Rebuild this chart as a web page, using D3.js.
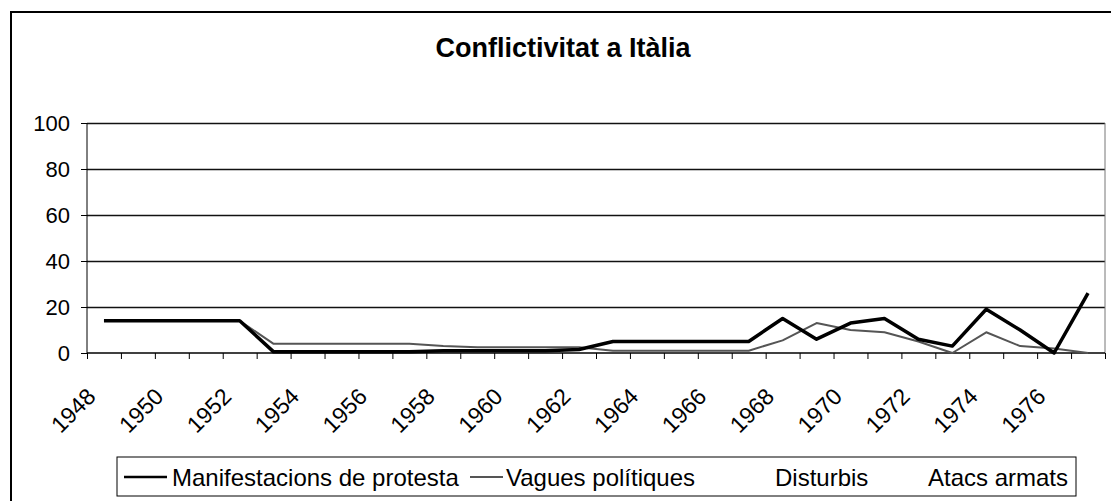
<!DOCTYPE html>
<html>
<head>
<meta charset="utf-8">
<script src="https://cdn.jsdelivr.net/npm/d3@7"></script>
<style>
body { margin: 0; background: #fff; }
svg { font-family: "Liberation Sans", Arial, sans-serif; }
.axis path { display: none; }
.axis line { stroke: #000; }
.grid line { stroke: #111; stroke-width: 1.5; }
.grid path { display: none; }
</style>
</head>
<body>
<svg width="1111" height="501"></svg>
<script>
// data
const years = d3.range(1948, 1978)
const yTicks = [0, 20, 40, 60, 80, 100]
const xLabels = d3.range(1948, 1978, 2)

const manifestacions = [14, 14, 14, 14, 14, 0.5, 0.5, 0.5, 0.5, 0.5, 1, 1, 1, 1, 1.5,
	5, 5, 5, 5, 5, 15, 6, 13, 15, 6, 3, 19, 10, 0, 26]
const vagues = [14, 14, 14, 14, 14, 4, 4, 4, 4, 4, 3, 2.5, 2.5, 2.5, 2.5,
	1, 1, 1, 1, 1, 5.5, 13, 10, 9, 5, 0, 9, 3, 2, 0]
// these two came out almost white in the print, only specks are left
const disturbis = [72, 70, 69, 72, 71, 73, 70, 66, 69, 72, 74, 70, 73, 72, 68,
	78, 89, 90, 70, 70, 63, 70, 72, 70, 66, 62, 72, 74, 72, 70]
const atacs = [30, 32, 33, 36, 38, 43, 35, 32, 30, 32, 33, 45, 33, 26, 30,
	32, 33, 33, 33, 31, 29, 31, 33, 30, 28, 28, 30, 32, 32, 30]

const seriesNames = ["Manifestacions de protesta", "Vagues polítiques", "Disturbis", "Atacs armats"]
const seriesColors = ["#000", "#555", "#fff", "#fff"]
const seriesWidths = [3.5, 2, 2, 2]

const svg = d3.select("svg")

//chart border
svg.append("rect")
	.attr("x", 11)
	.attr("y", 12)
	.attr("width", 1130)
	.attr("height", 520)
	.attr("fill", "#fff")
	.attr("stroke", "#000")
	.attr("stroke-width", 2)

//scales
const x = d3.scaleBand()
	.domain(years)
	.range([87, 1105])

const xEdge = d3.scaleLinear()
	.domain([0, years.length])
	.range([87, 1105])

const y = d3.scaleLinear()
	.domain([0, 100])
	.range([353, 123])

const cx = d => x(d) + x.bandwidth() / 2

const line = d3.line()
	.x((d, i) => cx(years[i]))
	.y(d => y(d))

//faint series go under the grid
svg.selectAll("path.faint")
	.data([disturbis, atacs])
	.enter()
	.append("path")
	.attr("class", "faint")
	.attr("d", line)
	.attr("fill", "none")
	.attr("stroke", "#fff")
	.attr("stroke-width", 2)

//grid
svg.append("g")
	.attr("class", "grid")
	.attr("transform", "translate(87,0)")
	.call(d3.axisLeft(y).tickValues(yTicks.slice(1)).tickSize(-(1105 - 87)).tickFormat(""))

//right border of plot area
svg.append("line")
	.attr("x1", 1105)
	.attr("x2", 1105)
	.attr("y1", y(100))
	.attr("y2", y(0))
	.attr("stroke", "#777")

//y axis
const yAxis = svg.append("g")
	.attr("class", "axis")
	.attr("transform", "translate(87,0)")
	.call(d3.axisLeft(y).tickValues(yTicks).tickSize(6).tickPadding(11))
yAxis.selectAll("text")
	.style("font-size", "22px")
	.attr("fill", "#000")
yAxis.append("line")
	.attr("y1", y(0))
	.attr("y2", y(100))
	.attr("stroke", "#000")

//x axis
const xAxis = svg.append("g")
	.attr("class", "axis")
	.attr("transform", `translate(0,${y(0)})`)
	.call(d3.axisBottom(xEdge).tickValues(d3.range(years.length + 1)).tickSize(6).tickFormat(""))
xAxis.append("line")
	.attr("x1", 87)
	.attr("x2", 1105)
	.attr("stroke", "#000")
	.attr("stroke-width", 1.5)

svg.selectAll("text.year")
	.data(xLabels)
	.enter()
	.append("text")
	.attr("class", "year")
	.attr("transform", d => `translate(${cx(d) - 7},398) rotate(-45)`)
	.attr("text-anchor", "end")
	.style("font-size", "23px")
	.text(d => d)

//lines
svg.selectAll("path.serie")
	.data([vagues, manifestacions])
	.enter()
	.append("path")
	.attr("class", "serie")
	.attr("d", line)
	.attr("fill", "none")
	.attr("stroke", (d, i) => i == 0 ? seriesColors[1] : seriesColors[0])
	.attr("stroke-width", (d, i) => i == 0 ? seriesWidths[1] : seriesWidths[0])
	.attr("stroke-linejoin", "round")

//title
svg.append("text")
	.attr("x", 563)
	.attr("y", 57)
	.attr("text-anchor", "middle")
	.style("font-size", "27px")
	.style("font-weight", "bold")
	.text("Conflictivitat a Itàlia")

//legend
svg.append("rect")
	.attr("x", 117)
	.attr("y", 457)
	.attr("width", 1076 - 117)
	.attr("height", 39)
	.attr("fill", "#fff")
	.attr("stroke", "#000")

const legendX = [124, 470, 727, 880]
const legend = svg.selectAll("g.legend")
	.data(seriesNames)
	.enter()
	.append("g")
	.attr("class", "legend")
	.attr("transform", (d, i) => `translate(${legendX[i]},0)`)

legend.append("line")
	.attr("x1", 0)
	.attr("x2", (d, i) => i == 1 ? 33 : 43)
	.attr("y1", 477)
	.attr("y2", 477)
	.attr("stroke", (d, i) => seriesColors[i])
	.attr("stroke-width", (d, i) => i == 0 ? 2.5 : seriesWidths[i])

legend.append("text")
	.attr("x", (d, i) => i == 1 ? 36 : 48)
	.attr("y", 486)
	.style("font-size", "24px")
	.text(d => d)
</script>
</body>
</html>
